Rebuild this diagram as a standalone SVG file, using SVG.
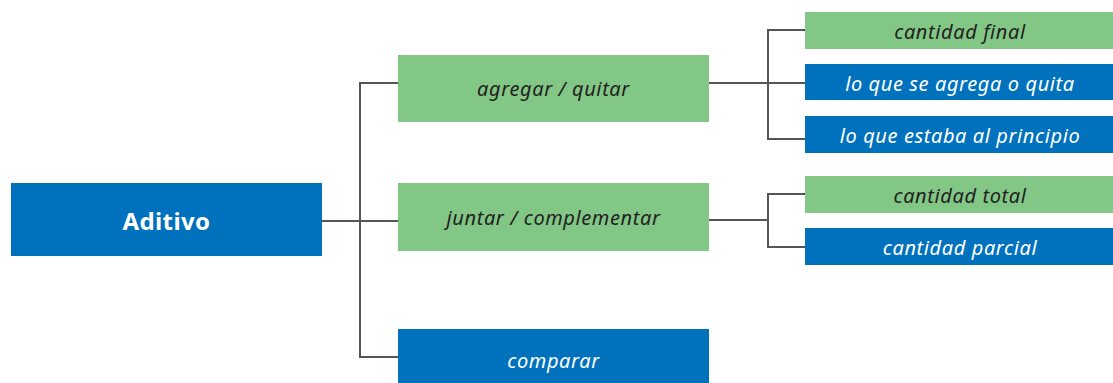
<svg xmlns="http://www.w3.org/2000/svg" width="1113" height="383" viewBox="0 0 1113 383">
  <style>
    .blue { fill: #0071bc; }
    .green { fill: #82c785; }
    .lbl { font-family: "Noto Sans", "Open Sans", sans-serif; font-size: 20px; letter-spacing: 0.6px; font-style: italic; text-anchor: middle; dominant-baseline: central; }
    .dark { fill: #222222; }
    .light { fill: #ffffff; }
    .title { font-family: "Noto Sans", "Open Sans", sans-serif; font-size: 24px; letter-spacing: 0.4px; font-weight: bold; fill: #ffffff; text-anchor: middle; dominant-baseline: central; }
    .wire { fill: none; stroke: #555555; stroke-width: 2; }
  </style>
  <rect width="1113" height="383" fill="#ffffff"/>

  <g id="connectors">
    <path class="wire" d="M322 221 H398"/>
    <path class="wire" d="M398 83 H360 V357 H398"/>
    <path class="wire" d="M709 83 H768"/>
    <path class="wire" d="M805 30 H768 V139 H805"/>
    <path class="wire" d="M768 83 H805"/>
    <path class="wire" d="M709 220 H768"/>
    <path class="wire" d="M805 194 H768 V247 H805"/>
  </g>

  <g id="aditivo">
    <rect class="blue" x="11" y="183" width="311" height="73"/>
    <text class="title" x="166.5" y="220">Aditivo</text>
  </g>

  <g id="agregar-quitar">
    <rect class="green" x="398" y="55" width="311" height="67"/>
    <text class="lbl dark" x="553.5" y="88">agregar / quitar</text>
  </g>

  <g id="juntar-complementar">
    <rect class="green" x="398" y="183" width="311" height="68"/>
    <text class="lbl dark" x="553.5" y="217">juntar / complementar</text>
  </g>

  <g id="comparar">
    <rect class="blue" x="398" y="329" width="311" height="54"/>
    <text class="lbl light" x="553.5" y="360">comparar</text>
  </g>

  <g id="cantidad-final">
    <rect class="green" x="805" y="12" width="308" height="37"/>
    <text class="lbl dark" x="960" y="31">cantidad final</text>
  </g>

  <g id="lo-que-se-agrega">
    <rect class="blue" x="805" y="64" width="308" height="36"/>
    <text class="lbl light" x="960" y="83">lo que se agrega o quita</text>
  </g>

  <g id="lo-que-estaba">
    <rect class="blue" x="805" y="116" width="308" height="37"/>
    <text class="lbl light" x="960" y="135">lo que estaba al principio</text>
  </g>

  <g id="cantidad-total">
    <rect class="green" x="805" y="176" width="308" height="37"/>
    <text class="lbl dark" x="960" y="195">cantidad total</text>
  </g>

  <g id="cantidad-parcial">
    <rect class="blue" x="805" y="228" width="308" height="37"/>
    <text class="lbl light" x="960" y="247">cantidad parcial</text>
  </g>
</svg>
